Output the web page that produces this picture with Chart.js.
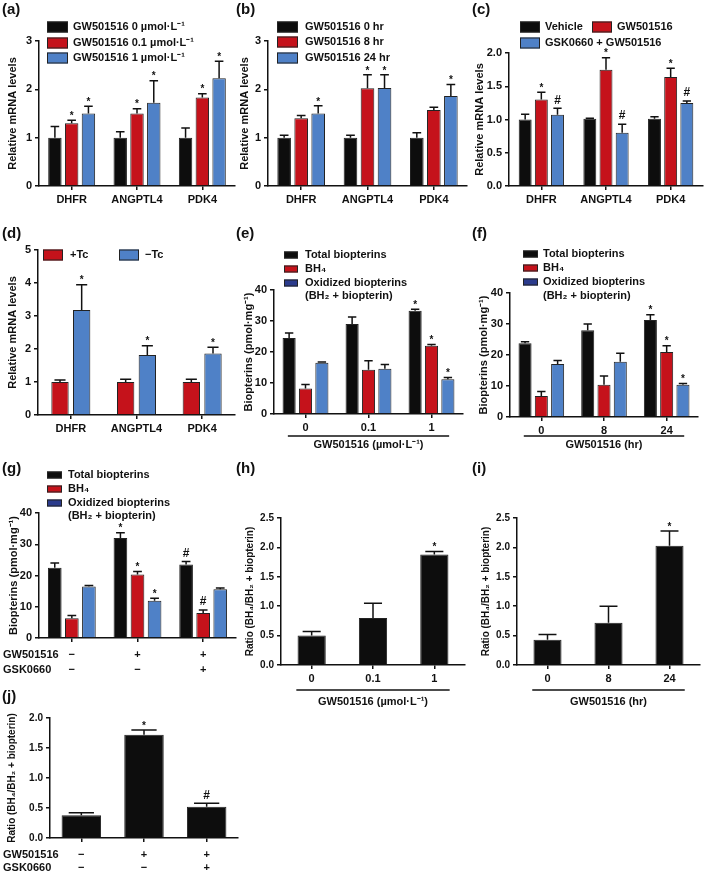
<!DOCTYPE html>
<html>
<head>
<meta charset="utf-8">
<script src="https://cdn.jsdelivr.net/npm/chart.js@4.4.1/dist/chart.umd.min.js"></script>
<style>
  body { margin: 0; background: #fff; width: 709px; height: 872px; position: relative; overflow: hidden; }
  canvas { position: absolute; }
  .lab { position: absolute; font: bold 15px "Liberation Sans", Arial, sans-serif; color: #111; z-index: 2; }
</style>
</head>
<body>
<script>
// ---- data ----
const genes = ["DHFR", "ANGPTL4", "PDK4"];
const doses = ["0", "0.1", "1"];
const hours = ["0", "8", "24"];
const treatGW = ["−", "+", "+"];
const treatGSK = ["−", "−", "+"];

// (a) dose response, mRNA
const aLabels = ["GW501516 0 µmol·L⁻¹", "GW501516 0.1 µmol·L⁻¹", "GW501516 1 µmol·L⁻¹"];
const aDose0 = [1.0, 1.0, 1.0];
const aDose0Sem = [0.23, 0.12, 0.2];
const aDose01 = [1.3, 1.5, 1.83];
const aDose01Sem = [0.06, 0.1, 0.08];
const aDose1 = [1.5, 1.72, 2.23];
const aDose1Sem = [0.15, 0.46, 0.35];

// (b) time course, mRNA
const bLabels = ["GW501516 0 hr", "GW501516 8 hr", "GW501516 24 hr"];
const bHr0 = [1.0, 1.0, 1.0];
const bHr0Sem = [0.05, 0.05, 0.1];
const bHr8 = [1.4, 2.02, 1.57];
const bHr8Sem = [0.06, 0.28, 0.06];
const bHr24 = [1.5, 2.03, 1.86];
const bHr24Sem = [0.16, 0.27, 0.24];

// (c) antagonist
const cLabels = ["Vehicle", "GW501516", "GSK0660 + GW501516"];
const cVeh = [1.0, 1.01, 1.01];
const cVehSem = [0.08, 0.01, 0.03];
const cGW = [1.3, 1.75, 1.64];
const cGWSem = [0.11, 0.18, 0.13];
const cGSK = [1.07, 0.8, 1.25];
const cGSKSem = [0.1, 0.13, 0.03];

// (d) Tet system
const dLabels = ["+Tc", "−Tc"];
const dPlus = [1.0, 1.0, 1.0];
const dPlusSem = [0.06, 0.08, 0.08];
const dMinus = [3.18, 1.82, 1.86];
const dMinusSem = [0.77, 0.28, 0.19];

// biopterin legend
const bioLabels = ["Total biopterins", "BH₄", ["Oxidized biopterins", "(BH₂ + biopterin)"]];

// (e) biopterins vs dose
const eTotal = [24.5, 29, 33.3];
const eTotalSem = [1.6, 2.3, 0.5];
const eBH4 = [8.2, 14.3, 22];
const eBH4Sem = [1.3, 2.9, 0.4];
const eOx = [16.5, 14.6, 11.2];
const eOxSem = [0.3, 1.4, 0.6];

// (f) biopterins vs time
const fTotal = [23.8, 28, 31.3];
const fTotalSem = [0.5, 2.0, 1.7];
const fBH4 = [6.8, 10.4, 21];
const fBH4Sem = [1.4, 2.8, 2.0];
const fOx = [17.1, 17.8, 10.4];
const fOxSem = [1.1, 2.8, 0.4];

// (g) biopterins with antagonist
const gTotal = [22.5, 32, 23.5];
const gTotalSem = [1.5, 1.7, 1.0];
const gBH4 = [6.3, 20.3, 8.0];
const gBH4Sem = [0.9, 1.0, 1.0];
const gOx = [16.5, 11.9, 15.6];
const gOxSem = [0.3, 0.8, 0.4];

// (h)(i)(j) ratio
const hRatio = [0.5, 0.8, 1.88];
const hRatioSem = [0.07, 0.25, 0.05];
const iRatio = [0.43, 0.72, 2.03];
const iRatioSem = [0.09, 0.28, 0.25];
const jRatio = [0.38, 1.72, 0.52];
const jRatioSem = [0.04, 0.08, 0.06];

// ---- styles ----
const BLACK = "#0d0d0d", RED = "#c5121b", BLUE = "#4f81c7", NAVY = "#2b3b8c";
const FONT = '"Liberation Sans", Arial, sans-serif';
Chart.defaults.font.family = FONT;
Chart.defaults.font.weight = "bold";
Chart.defaults.font.size = 11;
Chart.defaults.color = "#111";

function ds(label, data, sem, marks, color, legendColor) {
  return {
    label: label, data: data, sem: sem, marks: marks,
    backgroundColor: color, borderColor: "#222", borderWidth: 1,
    legendColor: legendColor || color,
  };
}

// error bars + significance marks
const errorBars = {
  id: "errorBars",
  afterDatasetsDraw(chart) {
    const ctx = chart.ctx, y = chart.scales.y;
    chart.data.datasets.forEach((d, di) => {
      chart.getDatasetMeta(di).data.forEach((bar, i) => {
        const top = y.getPixelForValue(d.data[i] + d.sem[i]);
        const w = Math.max(4, bar.width * 0.32);
        ctx.save();
        ctx.strokeStyle = "#111";
        ctx.lineWidth = 1.5;
        ctx.beginPath();
        ctx.moveTo(bar.x, bar.y);
        ctx.lineTo(bar.x, top);
        ctx.moveTo(bar.x - w, top);
        ctx.lineTo(bar.x + w, top);
        ctx.stroke();
        const m = d.marks && d.marks[i];
        if (m) {
          ctx.fillStyle = "#111";
          ctx.textAlign = "center";
          ctx.textBaseline = "bottom";
          ctx.font = m === "#" ? "bold 12px " + FONT : "bold 10px " + FONT;
          ctx.fillText(m, bar.x, m === "#" ? top - 2 : top + 1);
        }
        ctx.restore();
      });
    });
  }
};

// custom legend laid out like the figure
const boxLegend = {
  id: "boxLegend",
  afterDraw(chart, args, opts) {
    if (!opts.items) return;
    const ctx = chart.ctx;
    ctx.save();
    ctx.font = "bold " + (opts.size || 11) + "px " + FONT;
    ctx.textBaseline = "middle";
    ctx.textAlign = "left";
    chart.data.datasets.forEach((d, i) => {
      const it = opts.items[i];
      const [bw, bh] = opts.box;
      ctx.fillStyle = d.legendColor;
      ctx.fillRect(it[0], it[1] - bh / 2, bw, bh);
      ctx.strokeStyle = "#222";
      ctx.lineWidth = 1;
      ctx.strokeRect(it[0] + 0.5, it[1] - bh / 2 + 0.5, bw - 1, bh - 1);
      ctx.fillStyle = "#111";
      const lines = Array.isArray(d.label) ? d.label : [d.label];
      lines.forEach((t, k) => ctx.fillText(t, it[2], it[1] + k * (opts.lineGap || 13)));
    });
    ctx.restore();
  }
};

// underline between category labels and axis title
const underline = {
  id: "underline",
  afterDraw(chart, args, opts) {
    if (!opts.dy) return;
    const x = chart.scales.x, ctx = chart.ctx;
    const n = chart.data.labels.length;
    const k = (x.getPixelForValue(1) - x.getPixelForValue(0)) * opts.k;
    const yy = chart.chartArea.bottom + opts.dy;
    ctx.save();
    ctx.strokeStyle = "#111";
    ctx.lineWidth = 1.5;
    ctx.beginPath();
    ctx.moveTo(x.getPixelForValue(0) - k, yy);
    ctx.lineTo(x.getPixelForValue(n - 1) + k, yy);
    ctx.stroke();
    ctx.restore();
  }
};

// treatment row names (GW501516 / GSK0660)
const rowNames = {
  id: "rowNames",
  afterDraw(chart, args, opts) {
    if (!opts.names) return;
    const ctx = chart.ctx, x = chart.scales.x;
    const f = x.options.ticks.font;
    const pad = x.options.ticks.padding;
    const lh = f.size * f.lineHeight;
    ctx.save();
    ctx.font = "bold " + f.size + "px " + FONT;
    ctx.fillStyle = "#111";
    ctx.textBaseline = "middle";
    ctx.textAlign = "left";
    opts.names.forEach((t, i) => {
      ctx.fillText(t, opts.x, chart.chartArea.bottom + 4 + pad + lh * (i + 0.5));
    });
    ctx.restore();
  }
};

function panel(p) {
  const c = document.createElement("canvas");
  c.width = p.width;
  c.height = p.height;
  c.style.left = p.left + "px";
  c.style.top = p.top + "px";
  document.body.appendChild(c);
  const tickSize = p.tickSize || 11;
  new Chart(c, {
    type: "bar",
    data: { labels: p.labels, datasets: p.datasets },
    plugins: [errorBars, boxLegend, underline, rowNames],
    options: {
      responsive: false,
      animation: false,
      devicePixelRatio: 1,
      layout: { padding: { top: p.padTop, right: p.padRight, left: 0, bottom: 0 } },
      datasets: { bar: { categoryPercentage: p.catPct, barPercentage: p.barPct } },
      plugins: {
        legend: { display: false },
        tooltip: { enabled: false },
        boxLegend: p.legend || {},
        underline: p.underline || {},
        rowNames: p.rows || {},
      },
      scales: {
        x: {
          afterFit(s) { s.height = p.xh; },
          grid: { offset: false, drawOnChartArea: false, drawTicks: true, tickLength: 4, color: "#111", lineWidth: 1.5 },
          border: { color: "#111", width: 1.5 },
          ticks: { padding: p.xPad || 3, maxRotation: 0, autoSkip: false, font: { size: 11, lineHeight: p.xLh || 1.35 } },
          title: p.xTitle ? { display: true, text: p.xTitle, padding: { top: 0, bottom: 0 }, font: { size: 11 } } : { display: false },
        },
        y: {
          min: 0, max: p.yMax,
          afterFit(s) { s.width = p.yw; },
          grid: { drawOnChartArea: false, drawTicks: true, tickLength: 4, color: "#111", lineWidth: 1.5 },
          border: { color: "#111", width: 1.5 },
          ticks: {
            stepSize: p.yStep, padding: 3, font: { size: tickSize },
            callback: v => p.yDec ? v.toFixed(p.yDec) : v,
          },
          title: { display: true, text: p.yTitle, padding: { top: p.yTitlePad, bottom: 0 }, font: { size: p.yTitleSize || 11 } },
        },
      },
    },
  });
}

function label(t, x, y) {
  const d = document.createElement("div");
  d.className = "lab";
  d.textContent = t;
  d.style.left = x + "px";
  d.style.top = y + "px";
  document.body.appendChild(d);
}

const mrna = "Relative mRNA levels";
const bioTitle = "Biopterins (pmol·mg⁻¹)";
const ratioTitle = "Ratio (BH₄/BH₂ + biopterin)";
const treatLabels = treatGW.map((g, i) => [g, treatGSK[i]]);

// (a)
panel({
  left: 0, top: 0, width: 237, height: 215, yw: 39, xh: 29, padTop: 41, padRight: 2,
  labels: genes, yMax: 3, yStep: 1, yTitle: mrna, yTitlePad: 6, catPct: 0.77, barPct: 0.8,
  datasets: [
    ds(aLabels[0], aDose0, aDose0Sem, [], BLACK),
    ds(aLabels[1], aDose01, aDose01Sem, ["*", "*", "*"], RED),
    ds(aLabels[2], aDose1, aDose1Sem, ["*", "*", "*"], BLUE),
  ],
  legend: { box: [21, 11], items: [[47, 27, 73], [47, 43, 73], [47, 58, 73]] },
});

// (b)
panel({
  left: 237, top: 0, width: 235, height: 215, yw: 31, xh: 29, padTop: 41, padRight: 5,
  labels: genes, yMax: 3, yStep: 1, yTitle: mrna, yTitlePad: 1, catPct: 0.77, barPct: 0.8,
  datasets: [
    ds(bLabels[0], bHr0, bHr0Sem, [], BLACK),
    ds(bLabels[1], bHr8, bHr8Sem, ["", "*", ""], RED),
    ds(bLabels[2], bHr24, bHr24Sem, ["*", "*", "*"], BLUE),
  ],
  legend: { box: [21, 11], items: [[40, 27, 68], [40, 42, 68], [40, 58, 68]] },
});

// (c)
panel({
  left: 472, top: 0, width: 237, height: 215, yw: 37, xh: 29, padTop: 53, padRight: 6,
  labels: genes, yMax: 2, yStep: 0.5, yDec: 1, yTitle: mrna, yTitlePad: 1, catPct: 0.75, barPct: 0.8,
  datasets: [
    ds(cLabels[0], cVeh, cVehSem, [], BLACK),
    ds(cLabels[1], cGW, cGWSem, ["*", "*", "*"], RED),
    ds(cLabels[2], cGSK, cGSKSem, ["#", "#", "#"], BLUE),
  ],
  legend: { box: [20, 11], items: [[48, 27, 73], [120, 27, 145], [48, 43, 73]] },
});

// (d)
panel({
  left: 0, top: 215, width: 237, height: 230, yw: 38, xh: 30, padTop: 35, padRight: 2,
  labels: genes, yMax: 5, yStep: 1, yTitle: mrna, yTitlePad: 6, catPct: 0.66, barPct: 0.8,
  datasets: [
    ds(dLabels[0], dPlus, dPlusSem, [], RED),
    ds(dLabels[1], dMinus, dMinusSem, ["*", "*", "*"], BLUE),
  ],
  legend: { box: [20, 11], items: [[43, 40, 70], [119, 40, 145]] },
});

// (e)
panel({
  left: 237, top: 215, width: 235, height: 237, yw: 37, xh: 38, padTop: 75, padRight: 9,
  labels: doses, yMax: 40, yStep: 10, yTitle: bioTitle, yTitlePad: 5, catPct: 0.78, barPct: 0.8,
  xTitle: "GW501516 (µmol·L⁻¹)",
  datasets: [
    ds(bioLabels[0], eTotal, eTotalSem, ["", "", "*"], BLACK),
    ds(bioLabels[1], eBH4, eBH4Sem, ["", "", "*"], RED),
    ds(bioLabels[2], eOx, eOxSem, ["", "", "*"], BLUE, NAVY),
  ],
  legend: { box: [14, 7], items: [[47, 40, 68], [47, 54, 68], [47, 68, 68]], lineGap: 13 },
  underline: { dy: 22, k: 0.28 },
});

// (f)
panel({
  left: 472, top: 215, width: 237, height: 237, yw: 38, xh: 35, padTop: 78, padRight: 11,
  labels: hours, yMax: 40, yStep: 10, yTitle: bioTitle, yTitlePad: 5, catPct: 0.78, barPct: 0.8,
  xTitle: "GW501516 (hr)",
  datasets: [
    ds(bioLabels[0], fTotal, fTotalSem, ["", "", "*"], BLACK),
    ds(bioLabels[1], fBH4, fBH4Sem, ["", "", "*"], RED),
    ds(bioLabels[2], fOx, fOxSem, ["", "", "*"], BLUE, NAVY),
  ],
  legend: { box: [15, 7], items: [[51, 39, 71], [51, 53, 71], [51, 67, 71]], lineGap: 14 },
  underline: { dy: 19, k: 0.28 },
});

// (g)
panel({
  left: 0, top: 460, width: 240, height: 220, yw: 39, xh: 42, padTop: 53, padRight: 4,
  labels: treatLabels, yMax: 40, yStep: 10, yTitle: bioTitle, yTitlePad: 7, catPct: 0.78, barPct: 0.8,
  xPad: 6, xLh: 1.35,
  datasets: [
    ds(bioLabels[0], gTotal, gTotalSem, ["", "*", "#"], BLACK),
    ds(bioLabels[1], gBH4, gBH4Sem, ["", "*", "#"], RED),
    ds(bioLabels[2], gOx, gOxSem, ["", "*", ""], BLUE, NAVY),
  ],
  legend: { box: [15, 7], items: [[47, 15, 68], [47, 29, 68], [47, 43, 68]], lineGap: 13 },
  rows: { names: ["GW501516", "GSK0660"], x: 3 },
});

// (h)
panel({
  left: 237, top: 460, width: 235, height: 249, yw: 44, xh: 44, padTop: 58, padRight: 7,
  labels: doses, yMax: 2.5, yStep: 0.5, yDec: 1, tickSize: 10, yTitle: ratioTitle, yTitlePad: 7, yTitleSize: 10,
  catPct: 0.5, barPct: 0.92, xTitle: "GW501516 (µmol·L⁻¹)",
  datasets: [ds("Ratio", hRatio, hRatioSem, ["", "", "*"], BLACK)],
  underline: { dy: 25, k: 0.25 },
});

// (i)
panel({
  left: 472, top: 460, width: 237, height: 249, yw: 45, xh: 44, padTop: 58, padRight: 9,
  labels: hours, yMax: 2.5, yStep: 0.5, yDec: 1, tickSize: 10, yTitle: ratioTitle, yTitlePad: 8, yTitleSize: 10,
  catPct: 0.5, barPct: 0.92, xTitle: "GW501516 (hr)",
  datasets: [ds("Ratio", iRatio, iRatioSem, ["", "", "*"], BLACK)],
  underline: { dy: 25, k: 0.25 },
});

// (j)
panel({
  left: 0, top: 700, width: 240, height: 172, yw: 50, xh: 34, padTop: 18, padRight: 2,
  labels: treatLabels, yMax: 2, yStep: 0.5, yDec: 1, tickSize: 10, yTitle: ratioTitle, yTitlePad: 6, yTitleSize: 10,
  catPct: 0.7, barPct: 0.9, xPad: 6, xLh: 1.2,
  datasets: [ds("Ratio", jRatio, jRatioSem, ["", "*", "#"], BLACK)],
  rows: { names: ["GW501516", "GSK0660"], x: 3 },
});

label("(a)", 2, 0);
label("(b)", 236, 0);
label("(c)", 472, 0);
label("(d)", 2, 224);
label("(e)", 236, 224);
label("(f)", 472, 224);
label("(g)", 2, 459);
label("(h)", 236, 459);
label("(i)", 472, 459);
label("(j)", 2, 687);
</script>
</body>
</html>
